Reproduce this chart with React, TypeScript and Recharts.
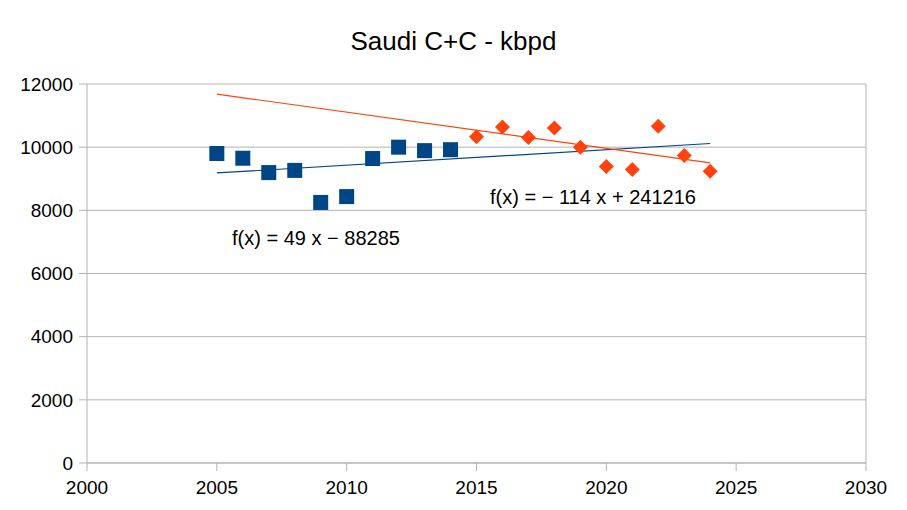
import React from 'react';
import { ScatterChart, Scatter, XAxis, YAxis, CartesianGrid, ReferenceLine } from 'recharts';

const YEARS_A = [2005, 2006, 2007, 2008, 2009, 2010, 2011, 2012, 2013, 2014];
const VALUES_A = [9800, 9650, 9195, 9265, 8250, 8435, 9640, 10000, 9890, 9920];
const YEARS_B = [2015, 2016, 2017, 2018, 2019, 2020, 2021, 2022, 2023, 2024];
const VALUES_B = [10330, 10635, 10310, 10605, 9995, 9390, 9295, 10660, 9740, 9235];

const X_TICKS = [2000, 2005, 2010, 2015, 2020, 2025, 2030];
const Y_TICKS = [0, 2000, 4000, 6000, 8000, 10000, 12000];
const TREND_RANGE = [2005, 2024];

const BLUE = '#004586';
const ORANGE = '#ff420e';
const GRID = '#b3b3b3';
const FONT = '"Liberation Sans", Arial, sans-serif';

// least squares fit over the points, evaluated at the trend range ends
const trendLine = (xs: number[], ys: number[]) => {
  const n = xs.length;
  const mx = xs.reduce((a, b) => a + b, 0) / n;
  const my = ys.reduce((a, b) => a + b, 0) / n;
  let num = 0, den = 0;
  xs.forEach((x, i) => { num += (x - mx) * (ys[i] - my); den += (x - mx) ** 2; });
  const slope = num / den;
  return TREND_RANGE.map(x => ({ x, y: my + slope * (x - mx) }));
};

const pointsA = YEARS_A.map((x, i) => ({ x, y: VALUES_A[i] }));
const pointsB = YEARS_B.map((x, i) => ({ x, y: VALUES_B[i] }));
const trendA = trendLine(YEARS_A, VALUES_A);
const trendB = trendLine(YEARS_B, VALUES_B);

const SquareShape = (props: any) => {
  const { cx, cy } = props;
  return <rect x={cx - 7.5} y={cy - 7.5} width={15} height={15} fill={BLUE} />;
};

const DiamondShape = (props: any) => {
  const { cx, cy } = props;
  const r = 7.5;
  return <polygon points={`${cx},${cy - r} ${cx + r},${cy} ${cx},${cy + r} ${cx - r},${cy}`} fill={ORANGE} />;
};

const NoShape = () => null;

const tickStyle = { fontSize: 19, fill: '#000', fontFamily: FONT };

export default function App() {
  return (
    <div style={{ position: 'absolute', left: 0, top: 0, width: 907, height: 510, background: '#fff', fontFamily: FONT }}>
      <div style={{ position: 'absolute', left: 0, width: 907, top: 25, textAlign: 'center', fontSize: 26, lineHeight: '32px', color: '#000' }}>
        Saudi C+C - kbpd
      </div>
      <ScatterChart width={907} height={510} margin={{ top: 84, right: 41, bottom: 0, left: 0 }}>
        <CartesianGrid vertical={false} stroke={GRID} />
        <XAxis
          type="number"
          dataKey="x"
          domain={[2000, 2030]}
          ticks={X_TICKS}
          interval={0}
          stroke={GRID}
          tickSize={8}
          tickMargin={10}
          height={47}
          tick={tickStyle}
        />
        <YAxis
          type="number"
          dataKey="y"
          domain={[0, 12000]}
          ticks={Y_TICKS}
          interval={0}
          stroke={GRID}
          tickSize={8}
          tickMargin={6}
          width={87}
          tick={tickStyle}
        />
        <ReferenceLine x={2030} stroke={GRID} />
        <Scatter data={trendA} line={{ stroke: BLUE, strokeWidth: 1.2 }} shape={NoShape} isAnimationActive={false} />
        <Scatter data={trendB} line={{ stroke: ORANGE, strokeWidth: 1.2 }} shape={NoShape} isAnimationActive={false} />
        <Scatter data={pointsA} shape={SquareShape} isAnimationActive={false} />
        <Scatter data={pointsB} shape={DiamondShape} isAnimationActive={false} />
      </ScatterChart>
      <div style={{ position: 'absolute', left: 232, top: 226, fontSize: 20, lineHeight: '24px', color: '#000', whiteSpace: 'nowrap' }}>
        f(x) = 49 x − 88285
      </div>
      <div style={{ position: 'absolute', left: 490, top: 185, fontSize: 20, lineHeight: '24px', color: '#000', whiteSpace: 'nowrap' }}>
        f(x) = − 114 x + 241216
      </div>
    </div>
  );
}
